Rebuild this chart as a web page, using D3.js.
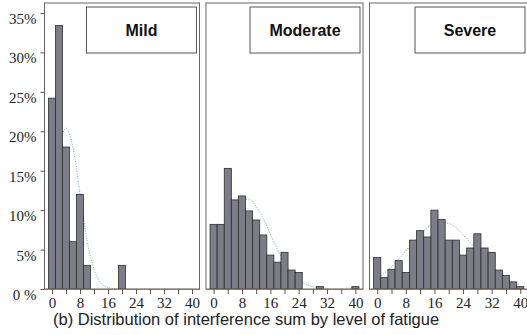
<!DOCTYPE html>
<html>
<head>
<meta charset="utf-8">
<script src="https://cdn.jsdelivr.net/npm/d3@7"></script>
<style>
  body { margin: 0; background: #fff; }
</style>
</head>
<body>
<svg id="chart" width="527" height="335"></svg>
<script>
// bin centres (interference sum), width 2
var bins = [0, 2, 4, 6, 8, 10, 12, 14, 16, 18, 20, 22, 24, 26, 28, 30, 32, 34, 36, 38, 40];

// percent of patients in each bin
var mildPct     = [24.2, 33.4, 18.0, 6.0, 12.0, 3.0, 0, 0, 0, 0, 3.0, 0, 0, 0, 0, 0, 0, 0, 0, 0, 0];
var moderatePct = [8.2, 8.2, 15.3, 11.3, 11.8, 9.9, 8.75, 6.85, 4.3, 3.4, 4.65, 2.4, 2.1, 0, 0, 0.3, 0, 0, 0, 0, 0.3];
var severePct   = [4.0, 1.45, 2.5, 3.6, 2.1, 6.2, 7.4, 6.6, 10.0, 8.8, 6.2, 6.2, 4.3, 5.2, 7.0, 5.2, 4.65, 2.4, 1.7, 0.9, 0.3];

// fitted curve at these x values
var curveX        = [0, 2, 4, 6, 8, 10, 12, 14, 16, 18, 20, 22, 24, 26, 28, 30, 32, 34, 36, 38, 40];
var mildCurve     = [12.1, 17.9, 20.4, 17.9, 12.1, 6.2, 2.5, 0.76, 0.18, 0.03, 0, 0, 0, 0, 0, 0, 0, 0, 0, 0, 0];
var moderateCurve = [5.0, 7.0, 8.9, 10.5, 11.4, 11.4, 10.5, 8.9, 7.0, 5.0, 3.35, 2.05, 1.15, 0.6, 0.29, 0.12, 0.05, 0, 0, 0, 0];
var severeCurve   = [1.36, 2.0, 2.8, 3.76, 4.8, 5.9, 6.9, 7.8, 8.3, 8.5, 8.3, 7.8, 6.9, 5.9, 4.8, 3.76, 2.8, 2.0, 1.36, 0.88, 0.55];

var panelNames = ["Mild", "Moderate", "Severe"];
var xTicks = [0, 4, 8, 12, 16, 20, 24, 28, 32, 36, 40];
var yTicks = [0, 5, 10, 15, 20, 25, 30, 35];
var caption = "(b) Distribution of interference sum by level of fatigue";

var serif = "'Liberation Serif', 'Times New Roman', serif";
var sans = "'Liberation Sans', Arial, sans-serif";

var svg = d3.select("#chart");
var plotTop = 3, base = 289;
var panelLeft = [44.5, 206, 369.5], panelRight = [199.5, 363, 528];
var series = [mildPct, moderatePct, severePct];
var curves = [mildCurve, moderateCurve, severeCurve];

var y = d3.scaleLinear().domain([0, 35]).range([base, 13]);

panelNames.forEach(function(name, p) {
  var x = d3.scaleLinear().domain([-2.15, 42.15]).range([panelLeft[p], panelRight[p]]);
  var g = svg.append("g");

  // fitted curve (drawn behind the bars)
  var line = d3.line()
      .x(function(d, i) { return x(curveX[i]); })
      .y(function(d) { return y(d); })
      .curve(d3.curveMonotoneX);

  g.append("path")
      .datum(curves[p])
      .attr("d", line)
      .attr("fill", "none")
      .attr("stroke", "#6fb0a0")
      .attr("stroke-width", 1)
      .attr("stroke-dasharray", "1,1.5");

  g.append("g")
    .selectAll("rect")
    .data(bins.filter(function(d, i) { return series[p][i] > 0; }))
    .enter().append("rect")
      .attr("x", function(d) { return x(d - 1); })
      .attr("y", function(d) { return y(series[p][bins.indexOf(d)]); })
      .attr("width", function(d) { return x(d + 1) - x(d - 1); })
      .attr("height", function(d) { return base - y(series[p][bins.indexOf(d)]); })
      .attr("fill", "#7d7d88")
      .attr("stroke", "#2b2b30")
      .attr("stroke-width", 0.8);

  // panel frame
  g.append("rect")
      .attr("x", panelLeft[p]).attr("y", plotTop)
      .attr("width", panelRight[p] - panelLeft[p]).attr("height", base - plotTop)
      .attr("fill", "none")
      .attr("stroke", "#666")
      .attr("stroke-width", 1);

  var ax = g.append("g")
      .attr("transform", "translate(0," + base + ")")
      .call(d3.axisBottom(x).tickValues(xTicks).tickSize(5).tickPadding(3).tickSizeOuter(0)
        .tickFormat(function(d) { return d % 8 === 0 ? d : ""; }));
  ax.attr("font-family", null).attr("font-size", null);
  ax.select(".domain").attr("stroke", "#8a7a6a");
  ax.selectAll("line").attr("stroke", "#555");
  ax.selectAll("text")
      .style("font-family", serif)
      .style("font-size", "15px")
      .attr("fill", "#222");

  // legend box
  var bw = 110, bx = panelRight[p] - 3 - bw;
  g.append("rect")
      .attr("x", bx).attr("y", 7)
      .attr("width", bw).attr("height", 46)
      .attr("fill", "#fff")
      .attr("stroke", "#555")
      .attr("stroke-width", 1);
  g.append("text")
      .attr("x", bx + bw / 2).attr("y", 30)
      .attr("dy", "0.35em")
      .attr("text-anchor", "middle")
      .style("font-family", sans)
      .style("font-weight", "bold")
      .style("font-size", "16px")
      .attr("fill", "#111")
      .text(name);
});

var yax = svg.append("g")
    .attr("transform", "translate(" + panelLeft[0] + ",0)")
    .call(d3.axisLeft(y).tickValues(yTicks).tickSize(4).tickSizeOuter(0)
      .tickFormat(function(d) { return d === 0 ? "0 %" : d + "%"; }));
yax.attr("font-family", null).attr("font-size", null);
yax.select(".domain").remove();
yax.selectAll("line").attr("stroke", "#555");
yax.selectAll("text")
    .attr("dy", "0.7em").attr("x", -8).attr("fill", "#222")
    .style("font-family", serif)
    .style("font-size", "15px");

svg.append("text")
    .attr("x", 53).attr("y", 325)
    .style("font-family", sans)
    .style("font-size", "16.5px")
    .attr("fill", "#222")
    .text(caption);
</script>
</body>
</html>
